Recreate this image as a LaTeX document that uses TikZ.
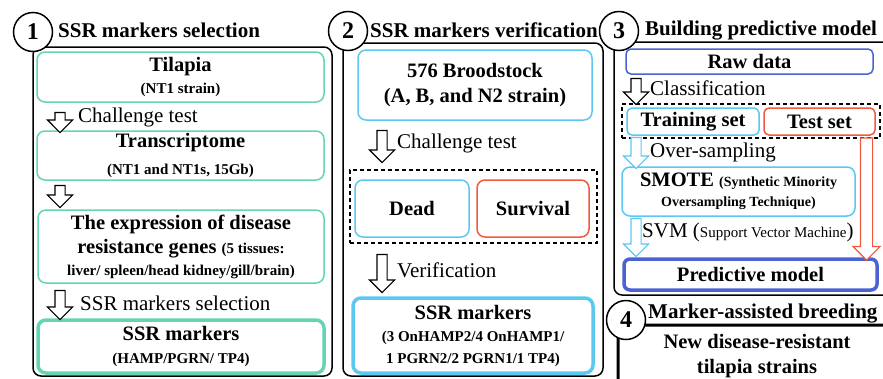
\documentclass[tikz,border=0pt]{standalone}
\usepackage{fontspec}
\setmainfont{Liberation Serif}
\usetikzlibrary{shapes.arrows}
\definecolor{mint}{RGB}{100,212,180}
\definecolor{skyb}{RGB}{92,200,240}
\definecolor{redo}{RGB}{240,90,62}
\definecolor{royal}{RGB}{74,98,210}
\newcommand{\bigtxt}{\fontsize{20.5}{24.5}\selectfont}
\newcommand{\smtxt}{\fontsize{15}{19}\selectfont}
\newcommand{\tinytxt}{\fontsize{14}{18}\selectfont}
\begin{document}
\begin{tikzpicture}[panel/.style={draw, line width=1.5pt, rounded corners=8pt},
  numcircle/.style={circle, draw, line width=1.5pt, fill=white, minimum size=39pt, inner sep=0pt, font=\bfseries\fontsize{24}{24}\selectfont},
  ttl/.style={anchor=base west, inner sep=0pt, font=\bfseries\fontsize{21}{24}\selectfont},
  box/.style={rounded corners=8pt, line width=1.5pt, align=center, inner sep=0pt, font=\bfseries\bigtxt},
  greenbox/.style={box, draw=mint}, bluebox/.style={box, draw=skyb}, redbox/.style={box, draw=redo},
  groupbox/.style={draw, dashed, line width=1.3pt, dash pattern=on 4pt off 3pt},
  blockarrow/.style={single arrow, draw, line width=1.1pt, fill=white, shape border rotate=270, minimum width=0pt, single arrow head extend=7.5pt, single arrow head indent=0pt, inner xsep=4.5pt, inner ysep=0pt},
  lbl/.style={anchor=west, inner sep=0pt, font=\fontsize{21}{24}\selectfont}]
\useasboundingbox (0pt, 0pt) rectangle (883pt, -378pt);
% panel frames
\draw[panel] (33pt, -47pt) rectangle (332pt, -376pt);
\draw[panel] (343pt, -43pt) rectangle (603pt, -376pt);
\draw[panel] (614pt, -42pt) rectangle (900pt, -295pt);
\draw[line width=3pt, rounded corners=8pt] (900pt, -325pt) -- (618pt, -325pt) -- (618pt, -400pt);
% 1: selection
\draw (33pt, -32pt)node[numcircle](c1){1};
\draw (58pt, -37pt)node[ttl](t1){SSR markers selection};
\draw (180.5pt, -77pt)node[greenbox, minimum width=287pt, minimum height=50pt](0){Tilapia\\[-2pt]{\smtxt (NT1 strain)}};
\draw (180.5pt, -155.5pt)node[greenbox, minimum width=287pt, minimum height=49pt](1){Transcriptome\\[2pt]{\smtxt (NT1 and NT1s, 15Gb)}};
\draw (181pt, -246.5pt)node[greenbox, minimum width=286pt, minimum height=73pt](2){The expression of disease\\resistance genes {\smtxt (5 tissues:}\\[-3pt]{\smtxt liver/ spleen/head kidney/gill/brain)}};
\draw (181pt, -346.5pt)node[greenbox, line width=3.5pt, minimum width=286pt, minimum height=53pt](3){SSR markers\\[-2pt]{\smtxt (HAMP/PGRN/ TP4)}};
\draw (60pt, -120pt)node[blockarrow, minimum height=20pt](a0){};
\draw (60pt, -194pt)node[blockarrow, minimum height=22pt](a1){};
\draw (60pt, -302.5pt)node[blockarrow, minimum height=29pt](a2){};
\draw (78pt, -117pt)node[lbl](l0){Challenge test};
\draw (80pt, -303pt)node[lbl](l2){SSR markers selection};
% 2: verification
\draw (348pt, -31pt)node[numcircle](c2){2};
\draw (370pt, -37pt)node[ttl](t2){SSR markers verification};
\draw (475pt, -85pt)node[bluebox, minimum width=234pt, minimum height=70pt](4){576 Broodstock\\(A, B, and N2 strain)};
\draw (473.5pt, -206.5pt)node[groupbox, minimum width=247pt, minimum height=73pt](g1){};
\draw (412pt, -208.5pt)node[bluebox, minimum width=114pt, minimum height=57pt](5){Dead};
\draw (533pt, -208.5pt)node[redbox, minimum width=112pt, minimum height=57pt](6){Survival};
\draw (473pt, -335.5pt)node[bluebox, line width=3.5pt, minimum width=240pt, minimum height=75pt](7){SSR markers\\[-2pt]{\smtxt (3 OnHAMP2/4 OnHAMP1/}\\[-3pt]{\smtxt 1 PGRN2/2 PGRN1/1 TP4)}};
\draw (382pt, -144pt)node[blockarrow, minimum height=32pt](a3){};
\draw (382pt, -271pt)node[blockarrow, minimum height=38pt](a4){};
\draw (397pt, -143pt)node[lbl](l3){Challenge test};
\draw (397pt, -270pt)node[lbl](l4){Verification};
% 3: predictive model
\draw (619pt, -31pt)node[numcircle](c3){3};
\draw (645pt, -35pt)node[ttl](t3){Building predictive model};
\draw (749.5pt, -61.5pt)node[box, draw=royal, rounded corners=5pt, minimum width=247pt, minimum height=25pt](8){Raw data};
\draw (751pt, -121pt)node[groupbox, minimum width=258pt, minimum height=34pt](g2){};
\draw (693pt, -121.5pt)node[bluebox, rounded corners=5pt, minimum width=132pt, minimum height=27pt](9){Training set};
\draw (819.5pt, -121.5pt)node[redbox, rounded corners=5pt, minimum width=111pt, minimum height=27pt](10){Test set};
\draw (738.5pt, -191.5pt)node[bluebox, minimum width=233pt, minimum height=49pt](11){SMOTE {\tinytxt (Synthetic Minority}\\[-4pt]{\tinytxt Oversampling Technique)}};
\draw (750.5pt, -274.5pt)node[box, draw=royal, line width=3.5pt, rounded corners=6pt, minimum width=253pt, minimum height=31pt](12){Predictive model};
\draw (636pt, -89pt)node[blockarrow, minimum height=26pt](a5){};
\draw (636pt, -150.5pt)node[blockarrow, draw=skyb, minimum height=31pt](a6){};
\draw (636pt, -235pt)node[blockarrow, draw=skyb, minimum height=38pt](a7){};
\draw (866.5pt, -196pt)node[blockarrow, draw=redo, inner xsep=5.5pt, minimum height=122pt](a8){};
\draw (650pt, -88pt)node[lbl](l5){Classification};
\draw (650pt, -152pt)node[lbl](l6){Over-sampling};
\draw (642pt, -232pt)node[lbl](l7){SVM ({\smtxt Support Vector Machine})};
% 4: breeding
\draw (626pt, -320pt)node[numcircle](c4){4};
\draw (648pt, -318pt)node[ttl](t4){Marker-assisted breeding};
\draw (757pt, -356pt)node[box](13){New disease-resistant\\tilapia strains};
\end{tikzpicture}
\end{document}
